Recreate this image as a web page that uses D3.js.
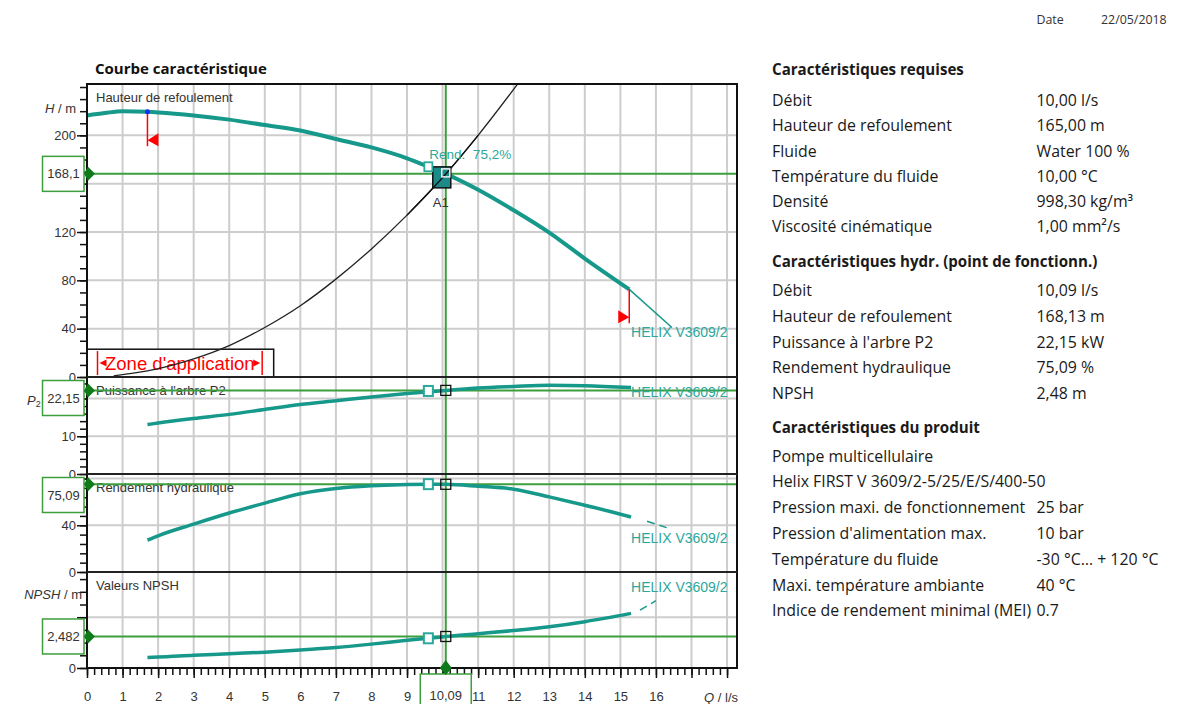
<!DOCTYPE html>
<html><head><meta charset="utf-8">
<script src="https://cdn.jsdelivr.net/npm/d3@7"></script>
<style>body{margin:0;background:#fff;} svg{display:block;}</style>
</head><body><svg id="c" width="1189" height="704"></svg>
<script>
// ---------------- DATA ----------------
// Pump head curve H(Q)
const qHead = [0,0.5,1,1.7,2,3,4,5,6,7,8,9,9.6,10.09,11,12,13,14,15.25];
const head  = [216.5,218.5,220,219.5,219,216.5,213,208.5,204,197,190,181,174,168.1,155,138,119.5,98,72.5];
const qHeadExt = [15.25,16.45];
const headExt  = [72.5,41];
// System curve
const qSys = [0.75,1.7,3,4,5,6,7,8,9,10.09,11,12.1];
const hSys = [1,5,15,26,41,59,81,106,134,168,200,242];
// Shaft power P2
const qPow = [1.7,2,3,4,5,6,7,8,9,10.09,11,12,13,14,15.3];
const pow  = [13.1,13.5,14.7,15.8,17.1,18.4,19.4,20.4,21.3,22.15,22.8,23.2,23.5,23.4,22.9];
// Hydraulic efficiency
const qEff = [1.7,2,3,4,5,6,7,8,8.8,9.6,10.09,11,12,13,14,15.3];
const eff  = [27.2,31,41,50.5,59,67,71.5,73.8,74.8,75.2,75.09,73.4,70.9,64.3,57.2,47.1];
const qEffExt = [15.75,16.3];
const effExt  = [43.5,38];
// NPSH
const qNpsh = [1.7,2,3,4,5,6,7,8,9,9.6,10.09,11,12,13,14,15.3];
const npsh  = [0.83,0.86,1.0,1.12,1.25,1.42,1.62,1.88,2.18,2.34,2.48,2.7,2.95,3.25,3.65,4.3];
const qNpshExt = [15.55,16.0];
const npshExt  = [4.55,5.3];
// Operating point and best efficiency point
const opQ = 10.09, opH = 168.13, opP = 22.15, opR = 75.09, opN = 2.482;
const bestQ = 9.6, bestH = 174, bestP = 22.0, bestR = 75.2;
const bestLabel = "Rend.\u00a0 75,2%";
const opLabels = {q:"10,09", h:"168,1", p:"22,15", r:"75,09", n:"2,482"};
// Application-range limits
const limitQ = [1.7, 15.25];
const limitTopH = [219.5, 72.5];
const limitBotH = [191, 44.5];
const zoneQ = [0, 5.25], zoneH = 23;
// Axis ticks
const xTicks = d3.range(0,19);
const xTickLabels = [0,1,2,3,4,5,6,7,8,9,11,12,13,14,15,16];
const hTicks = [0,40,80,120,160,200], hLabels=[0,40,80,120,200], hGrid=[40,80,120,160,200];
const pTicks = [0,10,20], pLabels=[0,10], pGrid=[10,20];
const rTicks = [0,40,80], rLabels=[0,40], rGrid=[40,80];
const nTicks = [0,4], nLabels=[0], nGrid=[4];
const curveName = "HELIX V3609/2";

// Right-hand tables
const dateLabel = "Date", dateValue = "22/05/2018";
const reqTitle = "Caractéristiques requises";
const reqLabels = ["Débit","Hauteur de refoulement","Fluide","Température du fluide","Densité","Viscosité cinématique"];
const reqValues = ["10,00 l/s","165,00 m","Water 100 %","10,00 °C","998,30 kg/m³","1,00 mm²/s"];
const hydTitle = "Caractéristiques hydr. (point de fonctionn.)";
const hydLabels = ["Débit","Hauteur de refoulement","Puissance à l'arbre P2","Rendement hydraulique","NPSH"];
const hydValues = ["10,09 l/s","168,13 m","22,15 kW","75,09 %","2,48 m"];
const prodTitle = "Caractéristiques du produit";
const prodLabels = ["Pompe multicellulaire","Helix FIRST V 3609/2-5/25/E/S/400-50","Pression maxi. de fonctionnement","Pression d'alimentation max.","Température du fluide","Maxi. température ambiante","Indice de rendement minimal (MEI)"];
const prodValues = ["","","25 bar","10 bar","-30 °C… + 120 °C","40 °C","0.7"];

// ---------------- DRAW ----------------
const svg = d3.select('#c');
const FONT = "'Liberation Sans', Arial, sans-serif";
const TEAL = "#16988a", TEAL_T = "#2ca79c", GREEN = "#3d9e3d", DGREEN = "#0f7a1a", GRID="#cdcdcd", TXT="#333";
svg.append('rect').attr('width',1189).attr('height',704).attr('fill','#fff');

const X0=87, X1=737, T0=84, T1=377, T2=474, T3=572, T4=668;
const x  = d3.scaleLinear().domain([0,18.28]).range([X0,X1]);
const yH = d3.scaleLinear().domain([0,242.5]).range([T1,T0]);
const yP = d3.scaleLinear().domain([0,25.7]).range([T2,T1]);
const yR = d3.scaleLinear().domain([0,83.9]).range([T3,T2]);
const yN = d3.scaleLinear().domain([0,7.56]).range([T4,T3]);
const panels = [
  {y:yH, top:T0, ticks:hTicks, labels:hLabels, grid:hGrid, minor:d3.range(0,241,10), title:"Hauteur de refoulement"},
  {y:yP, top:T1, ticks:pTicks, labels:pLabels, grid:pGrid, minor:d3.range(0,26,2), title:"Puissance à l'arbre P2"},
  {y:yR, top:T2, ticks:rTicks, labels:rLabels, grid:rGrid, minor:d3.range(0,84,8), title:"Rendement hydraulique"},
  {y:yN, top:T3, ticks:nTicks, labels:nLabels, grid:nGrid, minor:d3.range(0,8,1), title:"Valeurs NPSH"}
];

// grid
const g = svg.append('g');
g.selectAll('line.v').data(xTicks.filter(d=>d>0)).join('line')
  .attr('x1',d=>x(d)).attr('x2',d=>x(d)).attr('y1',T0).attr('y2',T4)
  .attr('stroke',GRID).attr('stroke-width',2);
panels.forEach(p=>{
  g.selectAll(null).data(p.grid).join('line')
   .attr('x1',X0).attr('x2',X1).attr('y1',d=>p.y(d)).attr('y2',d=>p.y(d))
   .attr('stroke',GRID).attr('stroke-width',2);
});

// application zone
svg.append('rect').attr('x',x(zoneQ[0])).attr('y',yH(zoneH)).attr('width',x(zoneQ[1])-x(zoneQ[0])).attr('height',yH(0)-yH(zoneH))
  .attr('fill','#fff').attr('stroke','#111').attr('stroke-width',1.5);
{
  const zy = (yH(zoneH)+yH(0))/2, zl = x(zoneQ[0])+10.5, zr = x(zoneQ[1])-11.5;
  const zg = svg.append('g').attr('fill','#f00').attr('stroke','#f00');
  zg.append('line').attr('x1',zl).attr('x2',zl).attr('y1',zy-12).attr('y2',zy+12).attr('stroke-width',1.5);
  zg.append('path').attr('d',`M${zl+2},${zy} L${zl+9},${zy-3.5} L${zl+9},${zy+3.5}Z`).attr('stroke','none');
  zg.append('line').attr('x1',zr).attr('x2',zr).attr('y1',zy-12).attr('y2',zy+12).attr('stroke-width',1.5);
  zg.append('path').attr('d',`M${zr-2},${zy} L${zr-9},${zy-3.5} L${zr-9},${zy+3.5}Z`).attr('stroke','none');
  svg.append('text').attr('x',(zl+zr)/2).attr('y',zy+7).attr('text-anchor','middle')
    .attr('font-family',FONT).attr('font-size',18.5).attr('fill','#f00').text("Zone d'application");
}

// panel titles
panels.forEach(p=>{
  svg.append('text').attr('x',X0+9).attr('y',p.top+18).attr('font-family',FONT).attr('font-size',13)
    .attr('fill',TXT).text(p.title);
});

// green operating lines
const greens = [{y:yH(opH)},{y:yP(opP)},{y:yR(opR)},{y:yN(opN)}];
svg.selectAll(null).data(greens).join('line').attr('x1',X0).attr('x2',X1).attr('y1',d=>d.y).attr('y2',d=>d.y)
  .attr('stroke',GREEN).attr('stroke-width',2);
svg.append('line').attr('x1',x(opQ)).attr('x2',x(opQ)).attr('y1',T0).attr('y2',T4+6).attr('stroke',GREEN).attr('stroke-width',2);

// curves
const line = (xs,ys,yS)=> d3.line().curve(d3.curveMonotoneX).x((d,i)=>x(xs[i])).y((d,i)=>yS(ys[i]))(xs);
svg.append('path').attr('d',line(qSys,hSys,yH)).attr('fill','none').attr('stroke','#222').attr('stroke-width',1.3);
svg.append('path').attr('d',line(qHead,head,yH)).attr('fill','none').attr('stroke',TEAL).attr('stroke-width',4);
svg.append('path').attr('d',line(qHeadExt,headExt,yH)).attr('fill','none').attr('stroke',TEAL).attr('stroke-width',1.5);
svg.append('path').attr('d',line(qPow,pow,yP)).attr('fill','none').attr('stroke',TEAL).attr('stroke-width',3.5);
svg.append('path').attr('d',line(qEff,eff,yR)).attr('fill','none').attr('stroke',TEAL).attr('stroke-width',3.5);
svg.append('path').attr('d',line(qEffExt,effExt,yR)).attr('fill','none').attr('stroke',TEAL).attr('stroke-width',1.5).attr('stroke-dasharray','8,5');
svg.append('path').attr('d',line(qNpsh,npsh,yN)).attr('fill','none').attr('stroke',TEAL).attr('stroke-width',3.5);
svg.append('path').attr('d',line(qNpshExt,npshExt,yN)).attr('fill','none').attr('stroke',TEAL).attr('stroke-width',1.5).attr('stroke-dasharray','8,5');

// A1 operating box
{
  const ox=x(opQ), oy=yH(opH);
  svg.append('rect').attr('x',ox-13).attr('y',oy-7).attr('width',18).attr('height',21)
    .attr('fill','#1b8a88').attr('stroke','#111').attr('stroke-width',1.5);
  svg.append('path').attr('d',line(qSys.slice(8,11),hSys.slice(8,11),yH)).attr('fill','none').attr('stroke','#111').attr('stroke-width',1.3);
  svg.append('rect').attr('x',ox-4).attr('y',oy-5).attr('width',8).attr('height',8).attr('fill','none').attr('stroke','#eee').attr('stroke-width',1.5);
  svg.append('text').attr('x',ox-13).attr('y',oy+33).attr('font-family',FONT).attr('font-size',13).attr('fill',TXT).text("A1");
  // best efficiency marker on H
  const bx=x(bestQ), by=yH(bestH);
  svg.append('rect').attr('x',bx-4).attr('y',by-4.5).attr('width',8).attr('height',9).attr('fill','#fff').attr('stroke',TEAL_T).attr('stroke-width',1.8);
  svg.append('text').attr('x',bx+1).attr('y',by-8).attr('font-family',FONT).attr('font-size',13.5).attr('fill',TEAL_T).text(bestLabel);
}
// markers lower panels
[{y:yP, v:[opP, bestP]},{y:yR, v:[opR, bestR]},{y:yN, v:[opN, npsh[qNpsh.indexOf(bestQ)]]}].forEach(m=>{
  svg.append('rect').attr('x',x(bestQ)-4.5).attr('y',m.y(m.v[1])-5).attr('width',9).attr('height',10).attr('fill','#fff').attr('stroke',TEAL_T).attr('stroke-width',2);
  svg.append('rect').attr('x',x(opQ)-5).attr('y',m.y(m.v[0])-5).attr('width',10).attr('height',10).attr('fill','none').attr('stroke','#111').attr('stroke-width',1.3);
});

// limit flags
limitQ.forEach((q,i)=>{
  const lx=x(q), yt=yH(limitTopH[i]), yb=yH(limitBotH[i]);
  svg.append('line').attr('x1',lx).attr('x2',lx).attr('y1',yt).attr('y2',yb).attr('stroke','#f00').attr('stroke-width',1.5);
  const s = i===0 ? 1 : -1;
  svg.append('path').attr('d',`M${lx},${yb-6} L${lx+s*11},${yb-13} L${lx+s*11},${yb}Z`).attr('fill','#f00');
});
svg.append('circle').attr('cx',x(limitQ[0])).attr('cy',yH(limitTopH[0])).attr('r',2.5).attr('fill','#1030ff');

// frame
svg.append('rect').attr('x',X0).attr('y',T0).attr('width',X1-X0).attr('height',T4-T0).attr('fill','none').attr('stroke','#111').attr('stroke-width',2);
[T1,T2,T3].forEach(t=>svg.append('line').attr('x1',X0).attr('x2',X1).attr('y1',t).attr('y2',t).attr('stroke','#222').attr('stroke-width',2));

// axes
const styleAxis = sel=>{ sel.select('.domain').remove(); sel.selectAll('line').attr('stroke','#111').attr('stroke-width',1.5);
  sel.selectAll('text').attr('font-family',FONT).attr('font-size',13).attr('fill',TXT); };
panels.forEach(p=>{
  svg.append('g').attr('transform',`translate(${X0},0)`).call(d3.axisLeft(p.y).tickValues(p.minor).tickSize(7).tickFormat('')).call(styleAxis);
  svg.append('g').attr('transform',`translate(${X0},0)`).call(d3.axisLeft(p.y).tickValues(p.ticks).tickSize(10).tickPadding(1)
    .tickFormat(d=>p.labels.includes(d)?d3.format('d')(d):'')).call(styleAxis);
});
svg.append('g').attr('transform',`translate(0,${T4})`).call(d3.axisBottom(x).tickValues(d3.range(0,91).map(d=>d/5)).tickSize(7).tickFormat('')).call(styleAxis);
svg.append('g').attr('transform',`translate(0,${T4})`).call(d3.axisBottom(x).tickValues(xTicks).tickSize(10).tickPadding(14)
  .tickFormat(d=>xTickLabels.includes(d)?d:'')).call(styleAxis);

// axis unit labels
const unit = (xx,yy,it,rest)=>{ const t=svg.append('text').attr('x',xx).attr('y',yy).attr('text-anchor','end').attr('font-family',FONT).attr('font-size',13).attr('fill',TXT);
  t.append('tspan').attr('font-style','italic').text(it); t.append('tspan').text(rest); return t; };
unit(76,113,"H"," / m");
unit(82,599,"NPSH"," / m");
unit(738,702,"Q"," / l/s");
{ const t=svg.append('text').attr('x',27).attr('y',405).attr('font-family',FONT).attr('font-size',13).attr('fill',TXT);
  t.append('tspan').attr('font-style','italic').text("P"); t.append('tspan').attr('font-size',9).attr('dy',2).text("2"); }

// diamonds + value boxes
const boxes = [
  {y:yH(opH), top:T0, txt:opLabels.h},
  {y:yP(opP), top:T1, txt:opLabels.p},
  {y:yR(opR), top:T2, txt:opLabels.r},
  {y:yN(opN), top:T3, txt:opLabels.n}];
boxes.forEach(b=>{
  const bt = Math.max(b.y-17.5, b.top+3.5);
  svg.append('rect').attr('x',42.5).attr('y',bt).attr('width',41.5).attr('height',35).attr('fill','#fff').attr('stroke',GREEN).attr('stroke-width',1.5);
  svg.append('text').attr('x',63.5).attr('y',bt+22).attr('text-anchor','middle').attr('font-family',FONT).attr('font-size',13).attr('fill',TXT).text(b.txt);
  svg.append('path').attr('d',`M${X0-3},${b.y} L${X0+1},${b.y-7} L${X0+8},${b.y} L${X0+1},${b.y+7}Z`).attr('fill',DGREEN);
});
{
  const ox=x(opQ);
  svg.append('rect').attr('x',ox-25.5).attr('y',T4+6).attr('width',51).attr('height',40).attr('fill','#fff').attr('stroke',GREEN).attr('stroke-width',1.5);
  svg.append('text').attr('x',ox).attr('y',700).attr('text-anchor','middle').attr('font-family',FONT).attr('font-size',13).attr('fill',TXT).text(opLabels.q);
  svg.append('path').attr('d',`M${ox},${T4-8} L${ox+6},${T4} L${ox},${T4+7} L${ox-6},${T4}Z`).attr('fill',DGREEN);
}

// curve name labels
const nameLabels = [{y:yH,v:33},{y:yP,v:20.4},{y:yR,v:24.8},{y:yN,v:5.95}];
nameLabels.forEach(n=>svg.append('text').attr('x',x(15.3)).attr('y',n.y(n.v)).attr('font-family',FONT).attr('font-size',14).attr('fill',TEAL_T).text(curveName));

// title
const fit=(txt,weight,family,target,base)=>{const t=svg.append('text').attr('font-family',family).attr('font-weight',weight).attr('font-size',base).text(txt);
  const w=t.node().getComputedTextLength(); t.remove(); return base*target/w;};
const TF="'Open Sans', 'Noto Sans', sans-serif";
svg.append('text').attr('x',95).attr('y',74).attr('font-family',TF).attr('font-weight','bold')
  .attr('font-size',fit("Courbe caractéristique",'bold',TF,172,14)).attr('fill','#111').text("Courbe caractéristique");

// right tables
const regSize = fit("Hauteur de refoulement",'normal',TF,180,14);
const boldSize = fit(reqTitle,'bold',TF,192,14);
const RX=772, VX=1036.5;
const rt = svg.append('g').attr('font-family',TF).attr('fill','#1a1a1a');
rt.append('text').attr('x',VX).attr('y',24).attr('font-size',regSize*0.78).attr('fill','#333').text(dateLabel);
rt.append('text').attr('x',1101).attr('y',24).attr('font-size',regSize*0.78).attr('fill','#333').text(dateValue);
const group=(title,ty,labels,values,y0,step)=>{
  rt.append('text').attr('x',RX).attr('y',ty).attr('font-weight','bold').attr('font-size',boldSize).text(title);
  labels.forEach((l,i)=>{
    rt.append('text').attr('x',RX).attr('y',y0+i*step).attr('font-size',regSize).text(l);
    if(values[i]) rt.append('text').attr('x',VX).attr('y',y0+i*step).attr('font-size',regSize).text(values[i]);
  });
};
group(reqTitle,75,reqLabels,reqValues,106,25.25);
group(hydTitle,266.5,hydLabels,hydValues,296,25.8);
group(prodTitle,432.5,prodLabels,prodValues,461.5,25.8);
</script></body></html>
